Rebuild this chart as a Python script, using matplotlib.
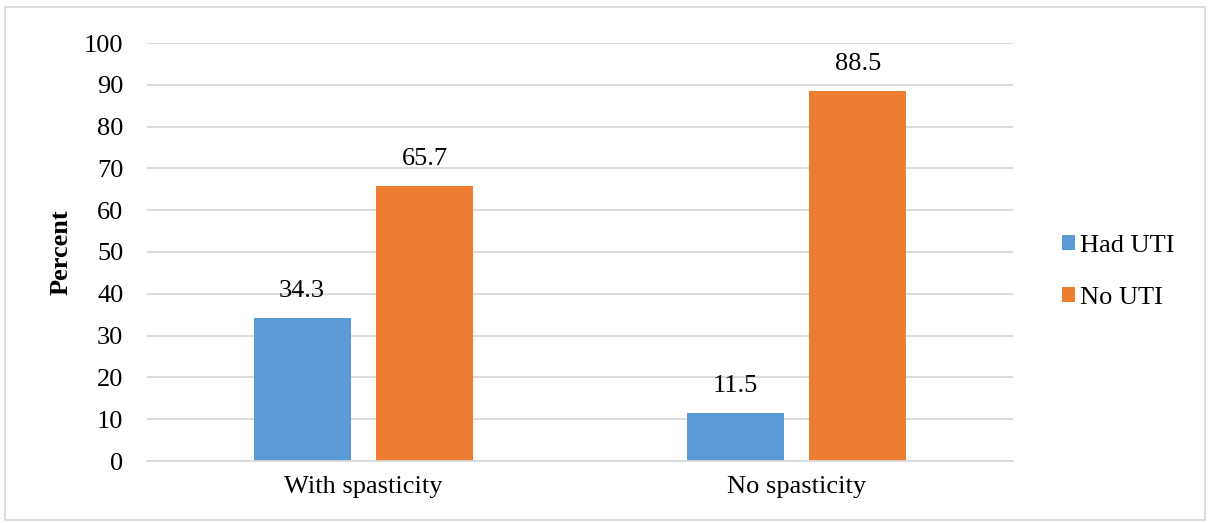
import matplotlib.pyplot as plt
from matplotlib.patches import Rectangle
import numpy as np

plt.rcParams['font.family'] = ['Liberation Serif', 'DejaVu Serif']

categories = ["With spasticity", "No spasticity"]
had_uti = [34.3, 11.5]
no_uti = [65.7, 88.5]
series_names = ["Had UTI", "No UTI"]
y_ticks = list(range(0, 101, 10))

BLUE = '#5B9BD5'
ORANGE = '#ED7D31'
GRID = '#D9D9D9'
FS = 19

fig = plt.figure(figsize=(12.11, 5.23), dpi=100)
ax = fig.add_axes([147 / 1211, 1 - 461 / 523, 866 / 1211, 418 / 523])

x = np.arange(len(categories))
width = 0.224
offset = 0.142

bars_a = ax.bar(x - offset, had_uti, width, color=BLUE, label=series_names[0], zorder=2)
bars_b = ax.bar(x + offset, no_uti, width, color=ORANGE, label=series_names[1], zorder=2)

for bars in (bars_a, bars_b):
    for b in bars:
        ax.text(b.get_x() + b.get_width() / 2, b.get_height() + 3.8, f"{b.get_height():.1f}",
                ha='center', va='bottom', fontsize=FS, color='#000000')

ax.set_xlim(-0.5, len(categories) - 0.5)
ax.set_ylim(0, 100)
ax.set_yticks(y_ticks)
ax.set_yticklabels([str(t) for t in y_ticks], fontsize=FS)
ax.set_xticks(x)
ax.set_xticklabels(categories, fontsize=FS)
ax.tick_params(axis='both', length=0)
ax.tick_params(axis='y', pad=17)
ax.tick_params(axis='x', pad=11)
ax.yaxis.grid(True, color=GRID, linewidth=1.3, zorder=0)
ax.set_axisbelow(True)
for side in ('left', 'right', 'top'):
    ax.spines[side].set_visible(False)
ax.spines['bottom'].set_color(GRID)
ax.spines['bottom'].set_linewidth(1.3)

ax.set_ylabel("Percent", fontsize=FS, fontweight='bold', labelpad=8)

leg = ax.legend(loc='center left', bbox_to_anchor=(1.041, 0.452), frameon=False,
                fontsize=FS, handlelength=0.5, handleheight=0.5, handletextpad=0.2,
                labelspacing=1.15, borderpad=0)

# outer border round the whole chart
fig.patches.append(Rectangle((5 / 1211, 3 / 523), 1200 / 1211, 513 / 523,
                             transform=fig.transFigure, fill=False,
                             edgecolor='#D9D9D9', linewidth=1.3))

fig.savefig('out.png', dpi=100)
